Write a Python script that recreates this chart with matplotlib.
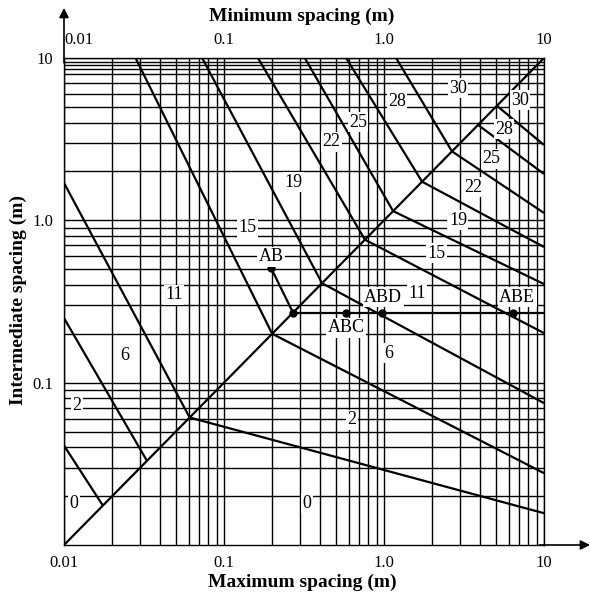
import numpy as np
import matplotlib
matplotlib.use('Agg')
import matplotlib.pyplot as plt
from matplotlib.ticker import LogLocator, NullFormatter, FixedLocator, FixedFormatter

plt.rcParams['font.family'] = ['Liberation Serif', 'DejaVu Serif']

# rating boundaries: upper end of the steep part, point on the diagonal,
# and height where the shallow part leaves the chart at max spacing = 10 m
steep_x = [0.01, 0.01, 0.01, 0.028, 0.073, 0.163, 0.32, 0.58, 1.19, np.nan, np.nan]
steep_y = [0.041, 0.25, 1.7, 10, 10, 10, 10, 10, 10, np.nan, np.nan]
knee = [0.0175, 0.033, 0.061, 0.2, 0.41, 0.76, 1.14, 1.73, 2.66, 3.87, 5.08]
end_y = [np.nan, np.nan, 0.0157, 0.0277, 0.0748, 0.202, 0.405, 0.685, 1.11, 1.93, 2.91]

ratings = ['0', '2', '6', '11', '15', '19', '22', '25', '28', '30']
upper_x = [0.0115, 0.0121, 0.024, 0.0487, 0.141, 0.27, 0.467, 0.688, 1.205, 2.90]
upper_y = [0.0181, 0.0728, 0.146, 0.347, 0.897, 1.72, 3.04, 4.03, 5.43, 6.53]
lower_x = [0.331, 0.631, 1.07, 1.61, 2.14, 2.90, 3.60, 4.67, 5.62, 7.08]
lower_y = [0.0181, 0.0589, 0.152, 0.356, 0.629, 1.00, 1.60, 2.39, 3.65, 5.51]

# worked example
pt_names = ['AB', 'ABC', 'ABD', 'ABE']
pt_x = [0.197, 0.58, 0.97, 6.4]
pt_y = [0.508, 0.27, 0.27, 0.27]
pt_off = [(0, 8), (0, -11), (1, 11), (3, 11)]
corner = 0.27

fig = plt.figure(figsize=(5.9, 5.95), dpi=100)
ax = fig.add_axes([64/590, 50/595, 480/590, 487/595])
ax.set_xscale('log')
ax.set_yscale('log')
ax.set_xlim(0.01, 10)
ax.set_ylim(0.01, 10)

# grid
ax.xaxis.set_minor_locator(LogLocator(base=10, subs=range(2, 10)))
ax.yaxis.set_minor_locator(LogLocator(base=10, subs=range(2, 10)))
ax.xaxis.set_minor_formatter(NullFormatter())
ax.yaxis.set_minor_formatter(NullFormatter())
ax.grid(True, which='both', color='black', lw=1.0)
for yy in [8.5, 9.5]:
    ax.axhline(yy, color='black', lw=1.0)

ax.xaxis.set_major_locator(FixedLocator([0.01, 0.1, 1, 10]))
ax.xaxis.set_major_formatter(FixedFormatter(['0.01', '0.1', '1.0', '10']))
ax.yaxis.set_major_locator(FixedLocator([0.1, 1, 10]))
ax.yaxis.set_major_formatter(FixedFormatter(['0.1', '1.0', '10']))
ax.tick_params(which='both', length=0, labelsize=12, top=False, labeltop=True)
ax.tick_params(axis='x', pad=7)
ax.tick_params(axis='y', pad=8)
ax.xaxis.get_major_ticks()[0].label2.set_horizontalalignment('left')

for s in ax.spines.values():
    s.set_linewidth(1.0)

# diagonal
ax.plot([0.01, 10], [0.01, 10], color='black', lw=1.6, zorder=3)

# rating boundaries
for sx, sy, k, ey in zip(steep_x, steep_y, knee, end_y):
    xs, ys = [], []
    if not np.isnan(sx):
        xs.append(sx); ys.append(sy)
    xs.append(k); ys.append(k)
    if not np.isnan(ey):
        xs.append(10); ys.append(ey)
    ax.plot(xs, ys, color='black', lw=1.6, zorder=3, solid_capstyle='butt')

box = dict(facecolor='white', edgecolor='none', pad=1.0)
for r, x, y in zip(ratings, upper_x, upper_y):
    ax.text(x, y, r, ha='center', va='center', fontsize=13, bbox=box, zorder=5)
for r, x, y in zip(ratings, lower_x, lower_y):
    ax.text(x, y, r, ha='center', va='center', fontsize=13, bbox=box, zorder=5)

# example path
ax.plot([pt_x[0], corner], [pt_y[0], corner], color='black', lw=1.6, zorder=4)
ax.plot([corner, 10], [corner, corner], color='black', lw=1.6, zorder=4)
ax.plot(pt_x + [corner], pt_y + [corner], 'o', color='black', ms=5, zorder=6)
for n, x, y, off in zip(pt_names, pt_x, pt_y, pt_off):
    ax.annotate(n, (x, y), xytext=off, textcoords='offset points', ha='center', va='center',
                fontsize=13, bbox=box, zorder=6)

# axis arrows
arrow = dict(arrowstyle='-|>', color='black', lw=1.2, mutation_scale=14, shrinkA=0, shrinkB=0)
ax.annotate('', xy=(0, 1.103), xytext=(0, 0.99), xycoords='axes fraction', arrowprops=arrow,
            annotation_clip=False)
ax.annotate('', xy=(1.096, 0), xytext=(0.99, 0), xycoords='axes fraction', arrowprops=arrow,
            annotation_clip=False)

fig.text(302/590, 1 - 16/595, 'Minimum spacing (m)', ha='center', va='center', fontsize=14, fontweight='bold')
fig.text(302/590, 1 - 582/595, 'Maximum spacing (m)', ha='center', va='center', fontsize=14, fontweight='bold')
fig.text(18/590, 1 - 300/595, 'Intermediate spacing (m)', ha='center', va='center', fontsize=14,
         fontweight='bold', rotation=90)

fig.savefig('out.png', dpi=100)
